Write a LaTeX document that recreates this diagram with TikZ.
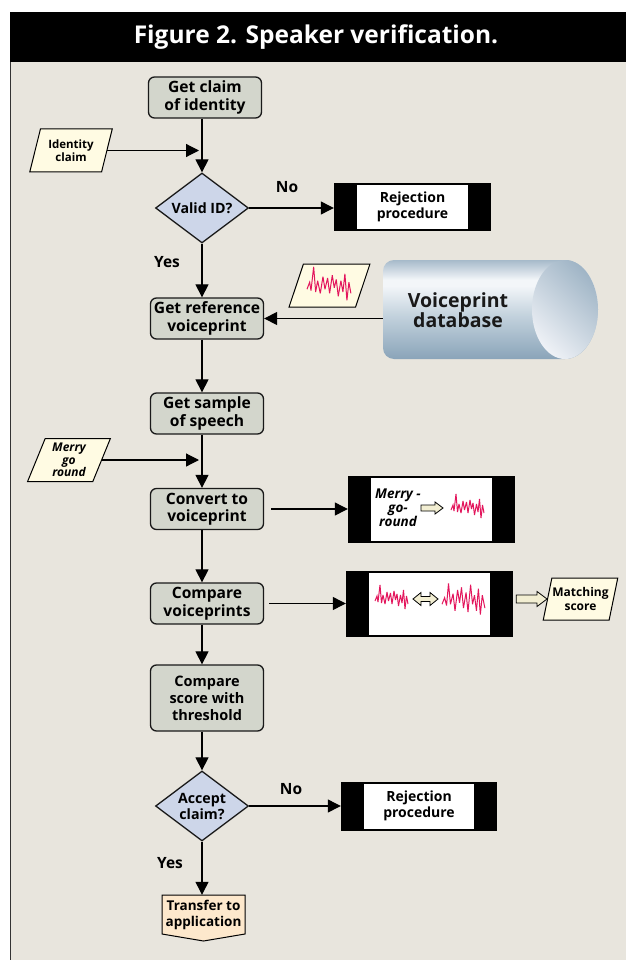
\documentclass[tikz,border=0pt]{standalone}
\usepackage{fontspec}
\setmainfont{Open Sans}
\usetikzlibrary{arrows.meta,shapes.geometric,calc}
\definecolor{bg}{HTML}{E8E5DD}
\definecolor{procfill}{HTML}{D3D6CC}
\definecolor{decfill}{HTML}{CDD6E9}
\definecolor{iofill}{HTML}{FFFBE3}
\definecolor{termfill}{HTML}{FDE8CC}
\definecolor{wavecol}{HTML}{E3155C}
\definecolor{arrowfill}{HTML}{F2EED2}
\definecolor{cylT}{HTML}{A6BACA}
\definecolor{cylL}{HTML}{F3F6F9}
\definecolor{cylM}{HTML}{C3D2DD}
\definecolor{cylD}{HTML}{8AA4B9}
\definecolor{capL}{HTML}{EEF1F6}
\definecolor{capD}{HTML}{A0B5C6}
\pgfdeclareverticalshading{cylbody}{100bp}{color(0bp)=(cylD); color(25bp)=(cylD); color(47bp)=(cylM); color(62bp)=(cylL); color(65bp)=(cylL); color(75bp)=(cylT); color(100bp)=(cylT)}
\newcommand{\myblockarrow}[5]{%
  \draw[line width=0.8pt, fill=arrowfill] let \p1=(#1), \p2=(#2) in
   (\x1,\y1+#3) -- (\x2-#5,\y1+#3) -- (\x2-#5,\y1+#4) -- (\x2,\y1) -- (\x2-#5,\y1-#4) -- (\x2-#5,\y1-#3) -- (\x1,\y1-#3) -- cycle;}
\tikzset{
  wave/.pic={\draw[wavecol, line width=1pt, line join=miter, miter limit=4]
    (0,3) -- (2,-2) -- (3,4) -- (5,-13) -- (6.5,5) -- (8,-3) -- (10,6) -- (12,-6) -- (13.5,3) -- (15.5,-5) -- (17,6) -- (19,-7) -- (20.5,2) -- (22,-4) -- (23.5,8) -- (25.5,-3) -- (27,5) -- (28.5,-8) -- (30,11) -- (31.5,-2) -- (33,6);},
  wavetwo/.pic={\draw[wavecol, line width=1pt, line join=miter, miter limit=4]
    (0,4) -- (2,-1) -- (3.5,5) -- (5,-12) -- (6.5,4) -- (8.5,-4) -- (10,9) -- (12,-7) -- (13.5,3) -- (15,-9) -- (16.5,7) -- (18.5,-5) -- (20,10) -- (22,-11) -- (23.5,4) -- (25,-3) -- (26.5,9) -- (28,-8) -- (29.5,12) -- (31,-3) -- (33,7);}
}
\begin{document}
\begin{tikzpicture}[x=1pt,y=-1pt,
  every node/.style={font=\bfseries},
  base/.style={line width=1.3pt, draw=black!90},
  proc/.style={base, fill=procfill, rounded corners=6pt, minimum width=113pt, minimum height=41pt, align=center, inner sep=1pt, font=\bfseries\fontsize{15.6}{17.5}\selectfont},
  decision/.style={base, diamond, aspect=1.33, fill=decfill, minimum width=93pt, minimum height=70pt, inner sep=0pt, align=center, font=\bfseries\fontsize{14.2}{16}\selectfont},
  io/.style={line width=1pt, draw, trapezium, trapezium left angle=70, trapezium right angle=110, trapezium stretches=true, fill=iofill, minimum width=83pt, minimum height=43pt, inner sep=0pt, align=center, font=\bfseries\fontsize{11.5}{13}\selectfont},
  blackbox/.style={fill=black, align=center, inner sep=0pt, font=\bfseries\fontsize{14}{15.5}\selectfont,
     path picture={\fill[white] ([shift={(23pt,2pt)}]path picture bounding box.south west) rectangle ([shift={(-23pt,-2pt)}]path picture bounding box.north east);}},
  lbl/.style={font=\bfseries\fontsize{15.5}{18}\selectfont},
  arr/.style={line width=1.2pt, -{Triangle[length=13pt, width=13pt]}}
]
\useasboundingbox (0,0) rectangle (626,960);
% frame
\fill[white] (0,0) rectangle (626,960);
\fill[bg] (10,62) rectangle (626,960);
\fill[black] (10,12) rectangle (626,62);
\draw[line width=1pt, black!80] (10.5,62) -- (10.5,960);
\node[text=white, font=\bfseries\fontsize{24.5}{30}\selectfont] (title) at (316,37) {Figure 2. Speaker verification.};

% main column
\node[proc] (getclaim) at (205,97.5) {Get claim\\of identity};
\node[io] (idclaim) at (71,150.5) {Identity\\claim};
\node[decision] (valid) at (202,208) {Valid ID?};
\node[blackbox, minimum width=157pt, minimum height=48pt] (rej1) at (412.5,207) {Rejection\\procedure};
\node[lbl] (no1) at (287,187) {No};
\node[lbl] (yes1) at (167,262) {Yes};
\node[proc] (getref) at (207,318.5) {Get reference\\voiceprint};
\node[io, minimum width=81pt] (wavepar) at (329.5,285.5) {\phantom{M}};
\pic[xscale=1.33, yscale=1.4] at (307,285) {wave};

% cylinder
\node[minimum width=182pt, minimum height=99pt, inner sep=0pt] (db) at (474,309.5) {};
\shade[shading=cylbody] (565,260) -- (394,260) arc[start angle=-90, end angle=-180, radius=11]
   -- (383,348) arc[start angle=180, end angle=90, radius=11]
   -- (565,359) arc[start angle=90, end angle=-90, x radius=33, y radius=49.5] -- cycle;
\shade[bottom color=capL, top color=capD, shading angle=-45] (565,309.5) ellipse[x radius=33, y radius=49.5];
\node[font=\bfseries\fontsize{19.5}{20.5}\selectfont, align=center, text=black!90] (dbtext) at (458,310) {Voiceprint\\database};

\node[proc] (getsample) at (207,413.5) {Get sample\\of speech};
\node[io, font=\bfseries\itshape\fontsize{12}{12.7}\selectfont] (merry) at (69,460) {Merry\\go\\round};
\node[proc] (convert) at (207,509) {Convert to\\voiceprint};
\node[blackbox, minimum width=167pt, minimum height=67pt] (mbox) at (431.5,509) {};
\node[font=\bfseries\itshape\fontsize{13.5}{14}\selectfont, align=center] (mtext) at (398,508) {Merry -\\go-\\round};
\myblockarrow{421,508}{443,508}{3pt}{6pt}{8pt}
\pic at (451,507) {wave};

\node[proc] (compare) at (207,603.5) {Compare\\voiceprints};
\node[blackbox, minimum width=167pt, minimum height=66pt] (cbox) at (429.5,603.5) {};
\pic at (375,598) {wave};
\draw[line width=0.8pt, fill=arrowfill] (413,599) -- (421,592.5) -- (421,596.5) -- (430,596.5) -- (430,592.5) -- (438,599) -- (430,605.5) -- (430,601.5) -- (421,601.5) -- (421,605.5) -- cycle;
\pic[xscale=1.3, yscale=1.3] at (442,599) {wavetwo};
\node[io, minimum width=75pt, minimum height=42pt, font=\bfseries\fontsize{12}{14}\selectfont] (match) at (580.5,599) {Matching\\score};

\node[proc, minimum height=66pt, font=\bfseries\fontsize{14.5}{17}\selectfont] (cscore) at (207,698) {Compare\\score with\\threshold};
\node[decision] (accept) at (202,806) {Accept\\claim?};
\node[blackbox, minimum width=156pt, minimum height=49pt] (rej2) at (419,806) {Rejection\\procedure};
\node[lbl] (no2) at (291,789) {No};
\node[lbl] (yes2) at (170,863) {Yes};
\draw[line width=1pt, fill=termfill] (162,895) -- (245,895) -- (245,934) -- (203.5,941) -- (162,934) -- cycle;
\node[font=\bfseries\fontsize{13.5}{16}\selectfont, align=center, minimum height=39pt, inner sep=0pt] (transfer) at (203.5,914.5) {Transfer to\\application};

% connectors
\draw[arr] (valid.north |- getclaim.south) -- (valid.north);
\coordinate (j1) at (valid.north |- idclaim.east);
\draw[arr, shorten >=3pt] (idclaim.east) -- (j1);
\draw[arr] (valid.east) -- (rej1.west |- valid.east);
\draw[arr] (valid.south) -- (valid.south |- getref.north);
\draw[arr] (getref.east -| db.west) -- (getref.east);
\draw[arr] (valid.south |- getref.south) -- (valid.south |- getsample.north);
\coordinate (j2) at (valid.south |- merry.east);
\draw[arr, shorten >=3pt] (merry.east) -- (j2);
\draw[arr] (valid.south |- getsample.south) -- (valid.south |- convert.north);
\draw[arr, shorten <=7pt] (convert.east) -- (mbox.west);
\draw[arr] (valid.south |- convert.south) -- (valid.south |- compare.north);
\draw[arr, shorten <=5pt] (compare.east) -- (cbox.west);
\myblockarrow{$(cbox.east |- match.west)+(3pt,0)$}{match.west}{4pt}{7.5pt}{10pt}
\draw[arr] (valid.south |- compare.south) -- (valid.south |- cscore.north);
\draw[arr] (accept.north |- cscore.south) -- (accept.north);
\draw[arr] (accept.east) -- (rej2.west);
\draw[arr] (accept.south) -- (accept.south |- transfer.north);
\end{tikzpicture}
\end{document}
